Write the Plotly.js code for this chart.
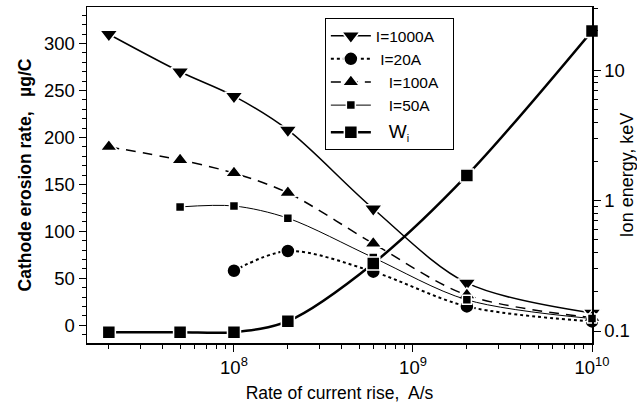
<!DOCTYPE html>
<html><head><meta charset="utf-8">
<script src="https://cdn.plot.ly/plotly-3.0.1.min.js"></script>
<style>html,body{margin:0;padding:0;background:#fff;}</style>
</head><body><div id="chart" style="width:637px;height:408px;"></div>
<script>
// Data
const rate = [2e7, 5e7, 1e8, 2e8, 6e8, 2e9, 1e10];
const erosion1000 = [310, 270, 244, 208, 124, 45, 13];
const rate20 = [1e8, 2e8, 6e8, 2e9, 1e10];
const erosion20 = [58, 79, 57, 20, 4];
const erosion100 = [190, 176, 162, 141, 87, 32, 8];
const rate50 = [5e7, 1e8, 2e8, 6e8, 2e9, 1e10];
const erosion50 = [126, 127, 114, 72, 27, 7];
const ionEnergy = [0.098, 0.098, 0.098, 0.119, 0.33, 1.56, 20];
const xTickVals = [1e8, 1e9, 1e10];
const xTickText = ['10<sup>8</sup>', '10<sup>9</sup>', '10<sup>10</sup>'];
const y2TickVals = [0.1, 1, 10];
const y2TickText = ['0.1', '1', '10'];

const xMinor = [];
for (let e = 7; e < 10; e++) for (let k = 2; k <= 9; k++) xMinor.push(k * Math.pow(10, e));
const y2Minor = [];
for (let e = -1; e < 2; e++) for (let k = 2; k <= 9; k++) y2Minor.push(k * Math.pow(10, e));

const F = '"Liberation Sans", Arial, sans-serif';
const halo = {color: '#fff', width: 1.5};

const traces = [
  {x: rate, y: erosion1000, name: 'I=1000A', mode: 'lines+markers', legendgroup: 'a',
   line: {color: '#000', width: 1.5, shape: 'spline', smoothing: 0.9},
   marker: {symbol: 'triangle-down', size: 16, color: '#000', line: halo}, cliponaxis: false},
  {x: rate20, y: erosion20, name: '\u00a0I=20A', mode: 'lines+markers', legendgroup: 'a',
   line: {color: '#000', width: 2, dash: 'dot', shape: 'spline', smoothing: 0.9},
   marker: {symbol: 'circle', size: 14, color: '#000', line: halo}, cliponaxis: false},
  {x: rate, y: erosion100, name: '\u00a0\u00a0\u00a0I=100A\u00a0\u00a0', mode: 'lines+markers', legendgroup: 'a',
   line: {color: '#000', width: 1.5, dash: '10px,7px', shape: 'spline', smoothing: 0.9},
   marker: {symbol: 'triangle-up', size: 15, color: '#000', line: halo}, cliponaxis: false},
  {x: rate50, y: erosion50, name: '\u00a0\u00a0\u00a0I=50A', mode: 'lines+markers', legendgroup: 'a',
   line: {color: '#000', width: 1, shape: 'spline', smoothing: 0.9},
   marker: {symbol: 'square', size: 9, color: '#000', line: halo}, cliponaxis: false},
  {x: rate, y: ionEnergy, name: '\u00a0\u00a0\u00a0<span style="font-size:19px">W</span><sub>i</sub>', mode: 'lines+markers', legendgroup: 'b', yaxis: 'y2',
   line: {color: '#000', width: 2.5, shape: 'spline', smoothing: 0.9},
   marker: {symbol: 'square', size: 13, color: '#000', line: halo}, cliponaxis: false}
];

const layout = {
  width: 637, height: 408,
  margin: {l: 87, r: 45, t: 7, b: 65},
  paper_bgcolor: '#fff', plot_bgcolor: '#fff',
  font: {family: F, color: '#000', size: 16},
  showlegend: true,
  legend: {x: 0.471, y: 0.967, xanchor: 'left', yanchor: 'top',
    bordercolor: '#000', borderwidth: 1, bgcolor: '#fff',
    font: {family: F, size: 15.5, color: '#000'},
    traceorder: 'grouped', tracegroupgap: 4, itemwidth: 40},
  xaxis: {type: 'log', range: [7.179, 10], showgrid: false, zeroline: false,
    showline: true, linecolor: '#000', linewidth: 1.5, mirror: true,
    tickmode: 'array', tickvals: xTickVals, ticktext: xTickText,
    ticks: 'outside', ticklen: 7, tickwidth: 1, tickcolor: '#000',
    tickfont: {family: F, size: 18.5},
    minor: {tickmode: 'array', tickvals: xMinor, ticks: 'outside', ticklen: 4, tickcolor: '#000', showgrid: false},
    title: {text: 'Rate of current rise,  A/s\u00a0\u00a0\u00a0\u00a0\u00a0\u00a0', font: {family: F, size: 17.5}, standoff: 10}},
  yaxis: {range: [-19, 339], showgrid: false, zeroline: false,
    showline: true, linecolor: '#000', linewidth: 1.5,
    tickmode: 'linear', tick0: 0, dtick: 50,
    ticks: 'outside', ticklen: 7, tickwidth: 1, tickcolor: '#000',
    tickfont: {family: F, size: 18.5},
    minor: {dtick: 10, tick0: 0, ticks: 'outside', ticklen: 4, tickcolor: '#000', showgrid: false},
    title: {text: '<b>Cathode erosion rate,   \u00b5g/C</b>', font: {family: F, size: 17.5}, standoff: 8}},
  yaxis2: {type: 'log', overlaying: 'y', side: 'right', range: [-1.092, 1.485],
    showgrid: false, zeroline: false,
    showline: true, linecolor: '#000', linewidth: 1.5,
    tickmode: 'array', tickvals: y2TickVals, ticktext: y2TickText,
    ticks: 'outside', ticklen: 7, tickwidth: 1, tickcolor: '#000',
    tickfont: {family: F, size: 18.5},
    minor: {tickmode: 'array', tickvals: y2Minor, ticks: 'outside', ticklen: 4, tickcolor: '#000', showgrid: false},
    title: {text: 'Ion energy, keV', font: {family: F, size: 18}, standoff: 4}}
};

Plotly.newPlot('chart', traces, layout, {displayModeBar: false, staticPlot: true});
</script>
</body></html>
